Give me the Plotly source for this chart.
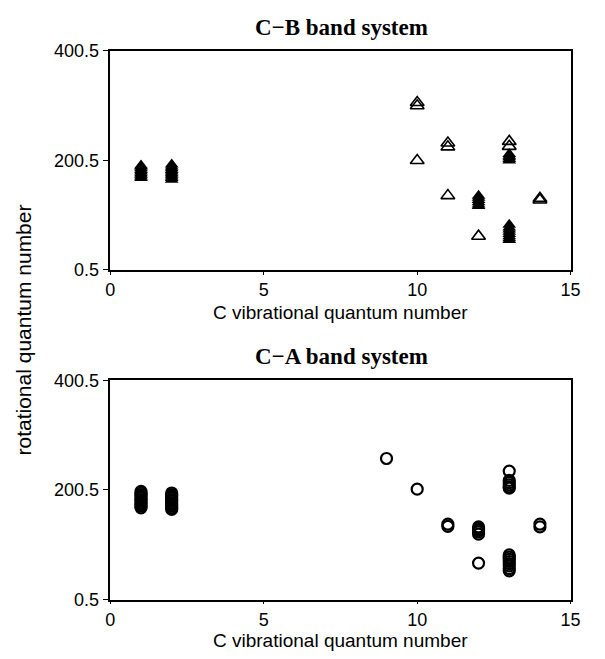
import plotly.graph_objects as go

# C-B band system: filled triangles
cb_filled_v = [1]*9 + [2]*10 + [12]*6 + [13]*5 + [13]*8
cb_filled_j = [168, 171, 174, 177, 180, 183, 186, 189, 191,
               165, 168, 171, 174, 177, 180, 183, 186, 189, 193,
               117, 120, 124, 128, 132, 136,
               200, 203, 206, 209, 212,
               55, 58, 62, 66, 70, 74, 78, 83]
# C-B band system: open triangles
cb_open_v = [10, 10, 10, 11, 11, 11, 12, 13, 13, 14, 14]
cb_open_j = [306, 300, 200, 232, 225, 136, 62, 235, 226, 131, 128]

# C-A band system: open circles
ca_v = [1]*11 + [2]*11 + [9, 10, 11, 11] + [12]*6 + [13]*6 + [13]*8 + [14, 14]
ca_j = [168, 171, 174, 177, 180, 183, 186, 189, 192, 195, 198,
        165, 168, 171, 174, 177, 180, 183, 186, 189, 192, 195,
        258, 202, 138, 134,
        133, 130, 127, 124, 120, 67,
        235, 218, 214, 210, 206, 204,
        82, 78, 74, 70, 66, 62, 57, 53,
        138, 133]

x_ticks = [0, 5, 10, 15]
y_ticks = [0.5, 200.5, 400.5]
y_ticktext = ["0.5", "200.5", "400.5"]

W, H = 605, 659
def px_x(p): return p / W
def px_y(p): return 1 - p / H

fig = go.Figure()
fig.add_trace(go.Scatter(x=cb_filled_v, y=cb_filled_j, mode="markers",
                         marker=dict(symbol="triangle-up", size=12, color="black",
                                     line=dict(width=0)),
                         xaxis="x", yaxis="y", showlegend=False))
fig.add_trace(go.Scatter(x=cb_open_v, y=cb_open_j, mode="markers",
                         marker=dict(symbol="triangle-up-open", size=12, color="black",
                                     line=dict(width=1.6, color="black")),
                         xaxis="x", yaxis="y", showlegend=False))
fig.add_trace(go.Scatter(x=ca_v, y=ca_j, mode="markers",
                         marker=dict(symbol="circle-open", size=11, color="black",
                                     line=dict(width=2.2, color="black")),
                         xaxis="x2", yaxis="y2", showlegend=False))

tickfont = dict(family="Liberation Sans, Arial, sans-serif", size=18, color="black")
axis_common = dict(showline=True, linecolor="black", linewidth=1.5, mirror=True,
                   tickwidth=1.2, tickcolor="black", ticks="outside",
                   showgrid=False, zeroline=False, tickfont=tickfont)

xdom = [px_x(108), px_x(580)]
fig.update_layout(
    width=W, height=H,
    margin=dict(l=0, r=0, t=0, b=0),
    paper_bgcolor="white", plot_bgcolor="white",
    xaxis=dict(domain=xdom, range=[0, 15], tickvals=x_ticks, anchor="y", ticklen=3, **axis_common),
    yaxis=dict(domain=[px_y(268), px_y(42)], range=[0.5, 400.5], tickvals=y_ticks,
               ticktext=y_ticktext, anchor="x", ticklen=6, **axis_common),
    xaxis2=dict(domain=xdom, range=[0, 15], tickvals=x_ticks, anchor="y2", ticklen=3, **axis_common),
    yaxis2=dict(domain=[px_y(608), px_y(382)], range=[0.5, 400.5], tickvals=y_ticks,
                ticktext=y_ticktext, anchor="x2", ticklen=6, **axis_common),
)

labfont = dict(family="Liberation Sans, Arial, sans-serif", size=19, color="black")
titlefont = dict(family="Liberation Serif, Times New Roman, serif", size=23, color="black")
ann = [
    dict(text="<b>C\u2212B band system</b>", x=px_x(345), y=px_y(18), font=titlefont),
    dict(text="<b>C\u2212A band system</b>", x=px_x(345), y=px_y(357), font=titlefont),
    dict(text="C vibrational quantum number", x=px_x(344), y=px_y(312), font=labfont),
    dict(text="C vibrational quantum number", x=px_x(344), y=px_y(650), font=labfont),
    dict(text="rotational quantum number", x=px_x(19), y=px_y(330), font=dict(labfont, size=21),
         textangle=-90),
]
for a in ann:
    fig.add_annotation(xref="paper", yref="paper", showarrow=False,
                       xanchor="center", yanchor="middle", **a)

fig.write_html("out.html")
